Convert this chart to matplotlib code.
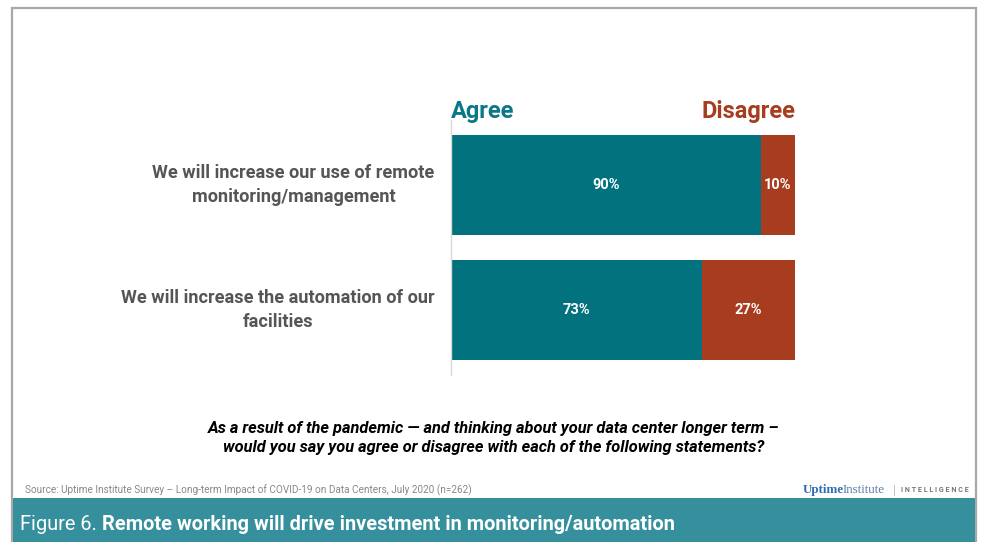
import numpy as np
import matplotlib
matplotlib.use("Agg")
import matplotlib.pyplot as plt
from matplotlib.patches import Rectangle

plt.rcParams['font.family'] = ['Roboto', 'DejaVu Sans']

# data
statements = ["We will increase our use of remote\nmonitoring/management",
              "We will increase the automation of our\nfacilities"]
agree = [90, 73]
disagree = [10, 27]

teal = "#02727F"
rust = "#A83C1E"
band = "#358F9C"
label_grey = "#555555"

W, H = 982, 542
fig = plt.figure(figsize=(W / 100, H / 100), dpi=100)

def fx(px):
    return px / W

def fy(py):
    return 1 - py / H

# outer frame
fig.patches.append(Rectangle((fx(12), fy(548)), fx(976) - fx(12), fy(8) - fy(548),
                             transform=fig.transFigure, fill=False,
                             ec="#A8A8A8", lw=1.6))
# bottom band
fig.patches.append(Rectangle((fx(13), 0), fx(975) - fx(13), fy(498),
                             transform=fig.transFigure, fc=band, ec="none"))

ax = fig.add_axes([fx(451), fy(375), fx(795) - fx(451), fy(120) - fy(375)])
y = np.arange(len(statements))
ax.barh(y, agree, height=0.8, color=teal)
ax.barh(y, disagree, left=agree, height=0.8, color=rust)
ax.set_xlim(0, 100)
ax.set_ylim(1.52, -0.52)
for s in ["top", "right", "bottom"]:
    ax.spines[s].set_visible(False)
ax.spines["left"].set_color("#D9D9D9")
ax.spines["left"].set_linewidth(1)
ax.set_xticks([])
ax.set_yticks([])

for i in range(len(statements)):
    ax.text(agree[i] / 2, y[i], f"{agree[i]}%", color="white", ha="center",
            va="center", fontsize=10.5, fontweight="bold")
    ax.text(agree[i] + disagree[i] / 2, y[i], f"{disagree[i]}%", color="white",
            ha="center", va="center", fontsize=10.5, fontweight="bold")
    ax.text(-4.8, y[i], statements[i], ha="right", va="center",
            multialignment="center", fontsize=13.1, fontweight="bold",
            color=label_grey, linespacing=1.45)

ax.text(0, -0.536, "Agree", color="#0B7888", fontsize=17, fontweight="bold",
        ha="left", va="baseline")
ax.text(100, -0.536, "Disagree", color=rust, fontsize=17, fontweight="bold",
        ha="right", va="baseline")

fig.text(fx(494), fy(438),
         "As a result of the pandemic \u2014 and thinking about your data center longer term \u2013\n"
         "would you say you agree or disagree with each of the following statements?",
         ha="center", va="center", fontsize=11.8, fontweight="bold", style="italic",
         color="black", linespacing=1.3)

fig.text(fx(25), fy(490), "Source: Uptime Institute Survey \u2013 Long-term Impact of COVID-19 on Data Centers, July 2020 (n=262)",
         ha="left", va="center", fontsize=7.2, color="#888888")

fig.canvas.draw()
r = fig.canvas.get_renderer()

# logo
t1 = fig.text(fx(803), fy(490), "Uptime", ha="left", va="center", fontsize=9.4,
              fontweight="bold", family="Liberation Serif", color="#2F6DB5")
e = t1.get_window_extent(r)
t2 = fig.text(e.x1 / W - fx(2), fy(490), "Institute", ha="left", va="center", fontsize=9.4,
              family="Liberation Serif", color="#5A7FA8")
fig.text(fx(894), fy(490), "|", ha="center", va="center", fontsize=9,
         color="#BBBBBB")
fig.text(fx(901), fy(490), "I N T E L L I G E N C E", ha="left", va="center",
         fontsize=5.2, fontweight="bold", color="#777777")

# band title
t = fig.text(fx(20), fy(524), "Figure 6. ", ha="left", va="center", fontsize=14.4,
             color="white")
e = t.get_window_extent(r)
fig.text(e.x1 / W, fy(524), "Remote working will drive investment in monitoring/automation",
         ha="left", va="center", fontsize=14.4, fontweight="bold", color="white")

fig.savefig("out.png", dpi=100)
